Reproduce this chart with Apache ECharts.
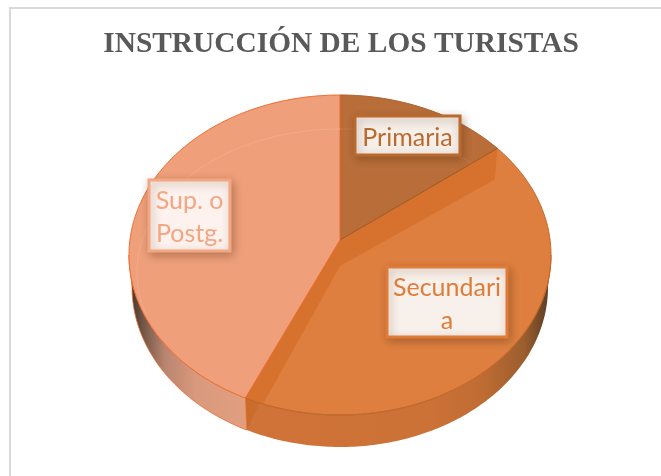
<!DOCTYPE html>
<html><head><meta charset="utf-8">
<style>html,body{margin:0;padding:0;background:#fff}#c{width:661px;height:476px}</style>
<script src="https://cdn.jsdelivr.net/npm/echarts@6/dist/echarts.min.js"></script>
</head><body><div id="c"></div>
<script>
const categories = ['Primaria', 'Secundaria', 'Sup. o Postg.'];
const values = [13.4, 44, 42.6];
const labelTexts = ['Primaria', 'Secundari\na', 'Sup. o\nPostg.'];
const titleText = 'INSTRUCCIÓN DE LOS TURISTAS';

const faceColors = ['#b96e39', '#de7f3f', '#efa07a'];
const edgeColors = ['#a9602c', '#c2682c', '#ec6c30'];
const rimColors = ['#c47a45', '#e5803a', '#f3ab8c'];
const bandColor = '#d6722d';
const boxStyles = [
  {x:355,y:116,w:105,h:39,border:'#bb6a2d',fill:'#f5eee9',text:'#bb6a2d'},
  {x:387,y:267,w:120,h:70,border:'#e17b38',fill:'#f8f0ea',text:'#e17b38'},
  {x:149,y:180,w:81,h:71,border:'#f4a582',fill:'#fdf2ee',text:'#f4a582'}
];

// Geometry of the tilted disc: polar coordinates are squashed to ellipses.
const R = 211;
const topE = {cy:255, rx:211, ry:160};
const baseE = {cy:287, rx:208, ry:160};
const innerE = {cy:272, rx:203, ry:143};
const apex = [340,240], apexInner = [340,266];

function cum(i){ let s=0; for(let k=0;k<i;k++) s+=values[k]; return s; }
function total(){ return values.reduce((a,b)=>a+b,0); }

function renderSlice(params, api){
  const i = params.dataIndex;
  const k = 100/total();
  const a = cum(i)*k, b = cum(i+1)*k;
  const c = api.coord([0,0]);
  const pt = (pct,e)=>{ const p = api.coord([1,pct%100]);
    return [c[0]+(p[0]-c[0])*e.rx/R, e.cy+(p[1]-c[1])*e.ry/R]; };
  const arc = (s,t,e)=>{ const o=[]; const n=Math.max(2,Math.ceil(Math.abs(t-s)*4));
    for(let j=0;j<=n;j++) o.push(pt(s+(t-s)*j/n,e)); return o; };
  const kids = [];
  const poly = (points,fill,stroke,lw)=>kids.push({type:'polygon',shape:{points},
    style:{fill,stroke:stroke||'none',lineWidth:lw||0}});
  const line = (points,stroke,lw)=>kids.push({type:'polyline',shape:{points},
    style:{fill:'none',stroke,lineWidth:lw}});
  const grad = (x0,x1,stops)=>({type:'linear',x:x0,y:0,x2:x1,y2:0,global:true,colorStops:stops});

  // side wall, only the part facing the viewer
  if(i===1){
    const s=25, t=b;
    poly(arc(s,t,topE).concat(arc(s,t,baseE).reverse()),
      grad(248,548,[{offset:0,color:'#cf7339'},{offset:.6,color:'#cd7237'},{offset:.78,color:'#bf6c33'},
        {offset:.92,color:'#9c5e2e'},{offset:1,color:'#5f3f24'}]));
  }
  if(i===2){
    const s=a, t=75;
    poly(arc(s,t,topE).concat(arc(s,t,baseE).reverse()),
      grad(133,247,[{offset:0,color:'#4a3c35'},{offset:.12,color:'#7e5e4c'},{offset:.28,color:'#b98570'},
        {offset:.55,color:'#d8997c'},{offset:1,color:'#e29f80'}]),'#ec6c30',.8);
  }
  // top face
  poly([apex].concat(arc(a,b,topE)), faceColors[i], edgeColors[i], 1);
  // inner rim of the bevel
  if(i===0) line(arc(0,b-.3,innerE),rimColors[0],1);
  if(i===1) line(arc(a+.4,31,innerE),rimColors[1],1);
  if(i===2) line(arc(70,100,innerE),rimColors[2],1);
  // bevelled cut faces of the middle slice
  if(i===1){
    poly([apex,pt(a,topE),pt(a+.4,innerE),apexInner],bandColor);
    poly([apex,pt(b,topE),pt(b-1.2,innerE),apexInner],bandColor);
    poly([pt(b,topE),pt(b-1.2,topE),pt(b,baseE)],'#c96c2c');
    line(arc(25,b,topE),edgeColors[1],1);
    line([apex,pt(a,topE)],'#a35a26',1);
  }
  return {type:'group',children:kids};
}

function renderLabel(params, api){
  const i = params.dataIndex, b = boxStyles[i];
  return {type:'group',children:[
    {type:'rect',shape:{x:b.x,y:b.y,width:b.w,height:b.h},
     style:{fill:b.fill,stroke:b.border,lineWidth:3,shadowBlur:9,shadowOffsetX:2,shadowOffsetY:3,shadowColor:'rgba(90,50,20,.35)'}},
    {type:'text',x:b.x+b.w/2,y:b.y+b.h/2+2,
     style:{text:labelTexts[i],fill:b.text,font:'25px Lato',lineHeight:33,align:'center',verticalAlign:'middle'}}
  ]};
}

const seriesData = values.map((v,i)=>({name:categories[i],value:[1,v]}));
const chart = echarts.init(document.getElementById('c'),null,{renderer:'canvas'});
chart.setOption({
  animation:false,
  backgroundColor:'#fff',
  title:{text:titleText,left:336,top:25,textAlign:'center',
    textStyle:{fontFamily:'Liberation Serif',fontSize:29.4,fontWeight:'bold',color:'#595959'}},
  polar:{center:[340,255],radius:R},
  angleAxis:{type:'value',min:0,max:100,startAngle:90,show:false},
  radiusAxis:{type:'value',min:0,max:1,show:false},
  graphic:[{type:'polyline',silent:true,z:-1,shape:{points:[[10,476],[10,8],[661,8]]},
    style:{fill:'none',stroke:'#d9d9d9',lineWidth:2}}],
  series:[
    {type:'custom',coordinateSystem:'polar',renderItem:renderSlice,data:seriesData,silent:true,z:2},
    {type:'custom',coordinateSystem:'polar',renderItem:renderLabel,data:seriesData,silent:true,z:3}
  ]
});
</script></body></html>
